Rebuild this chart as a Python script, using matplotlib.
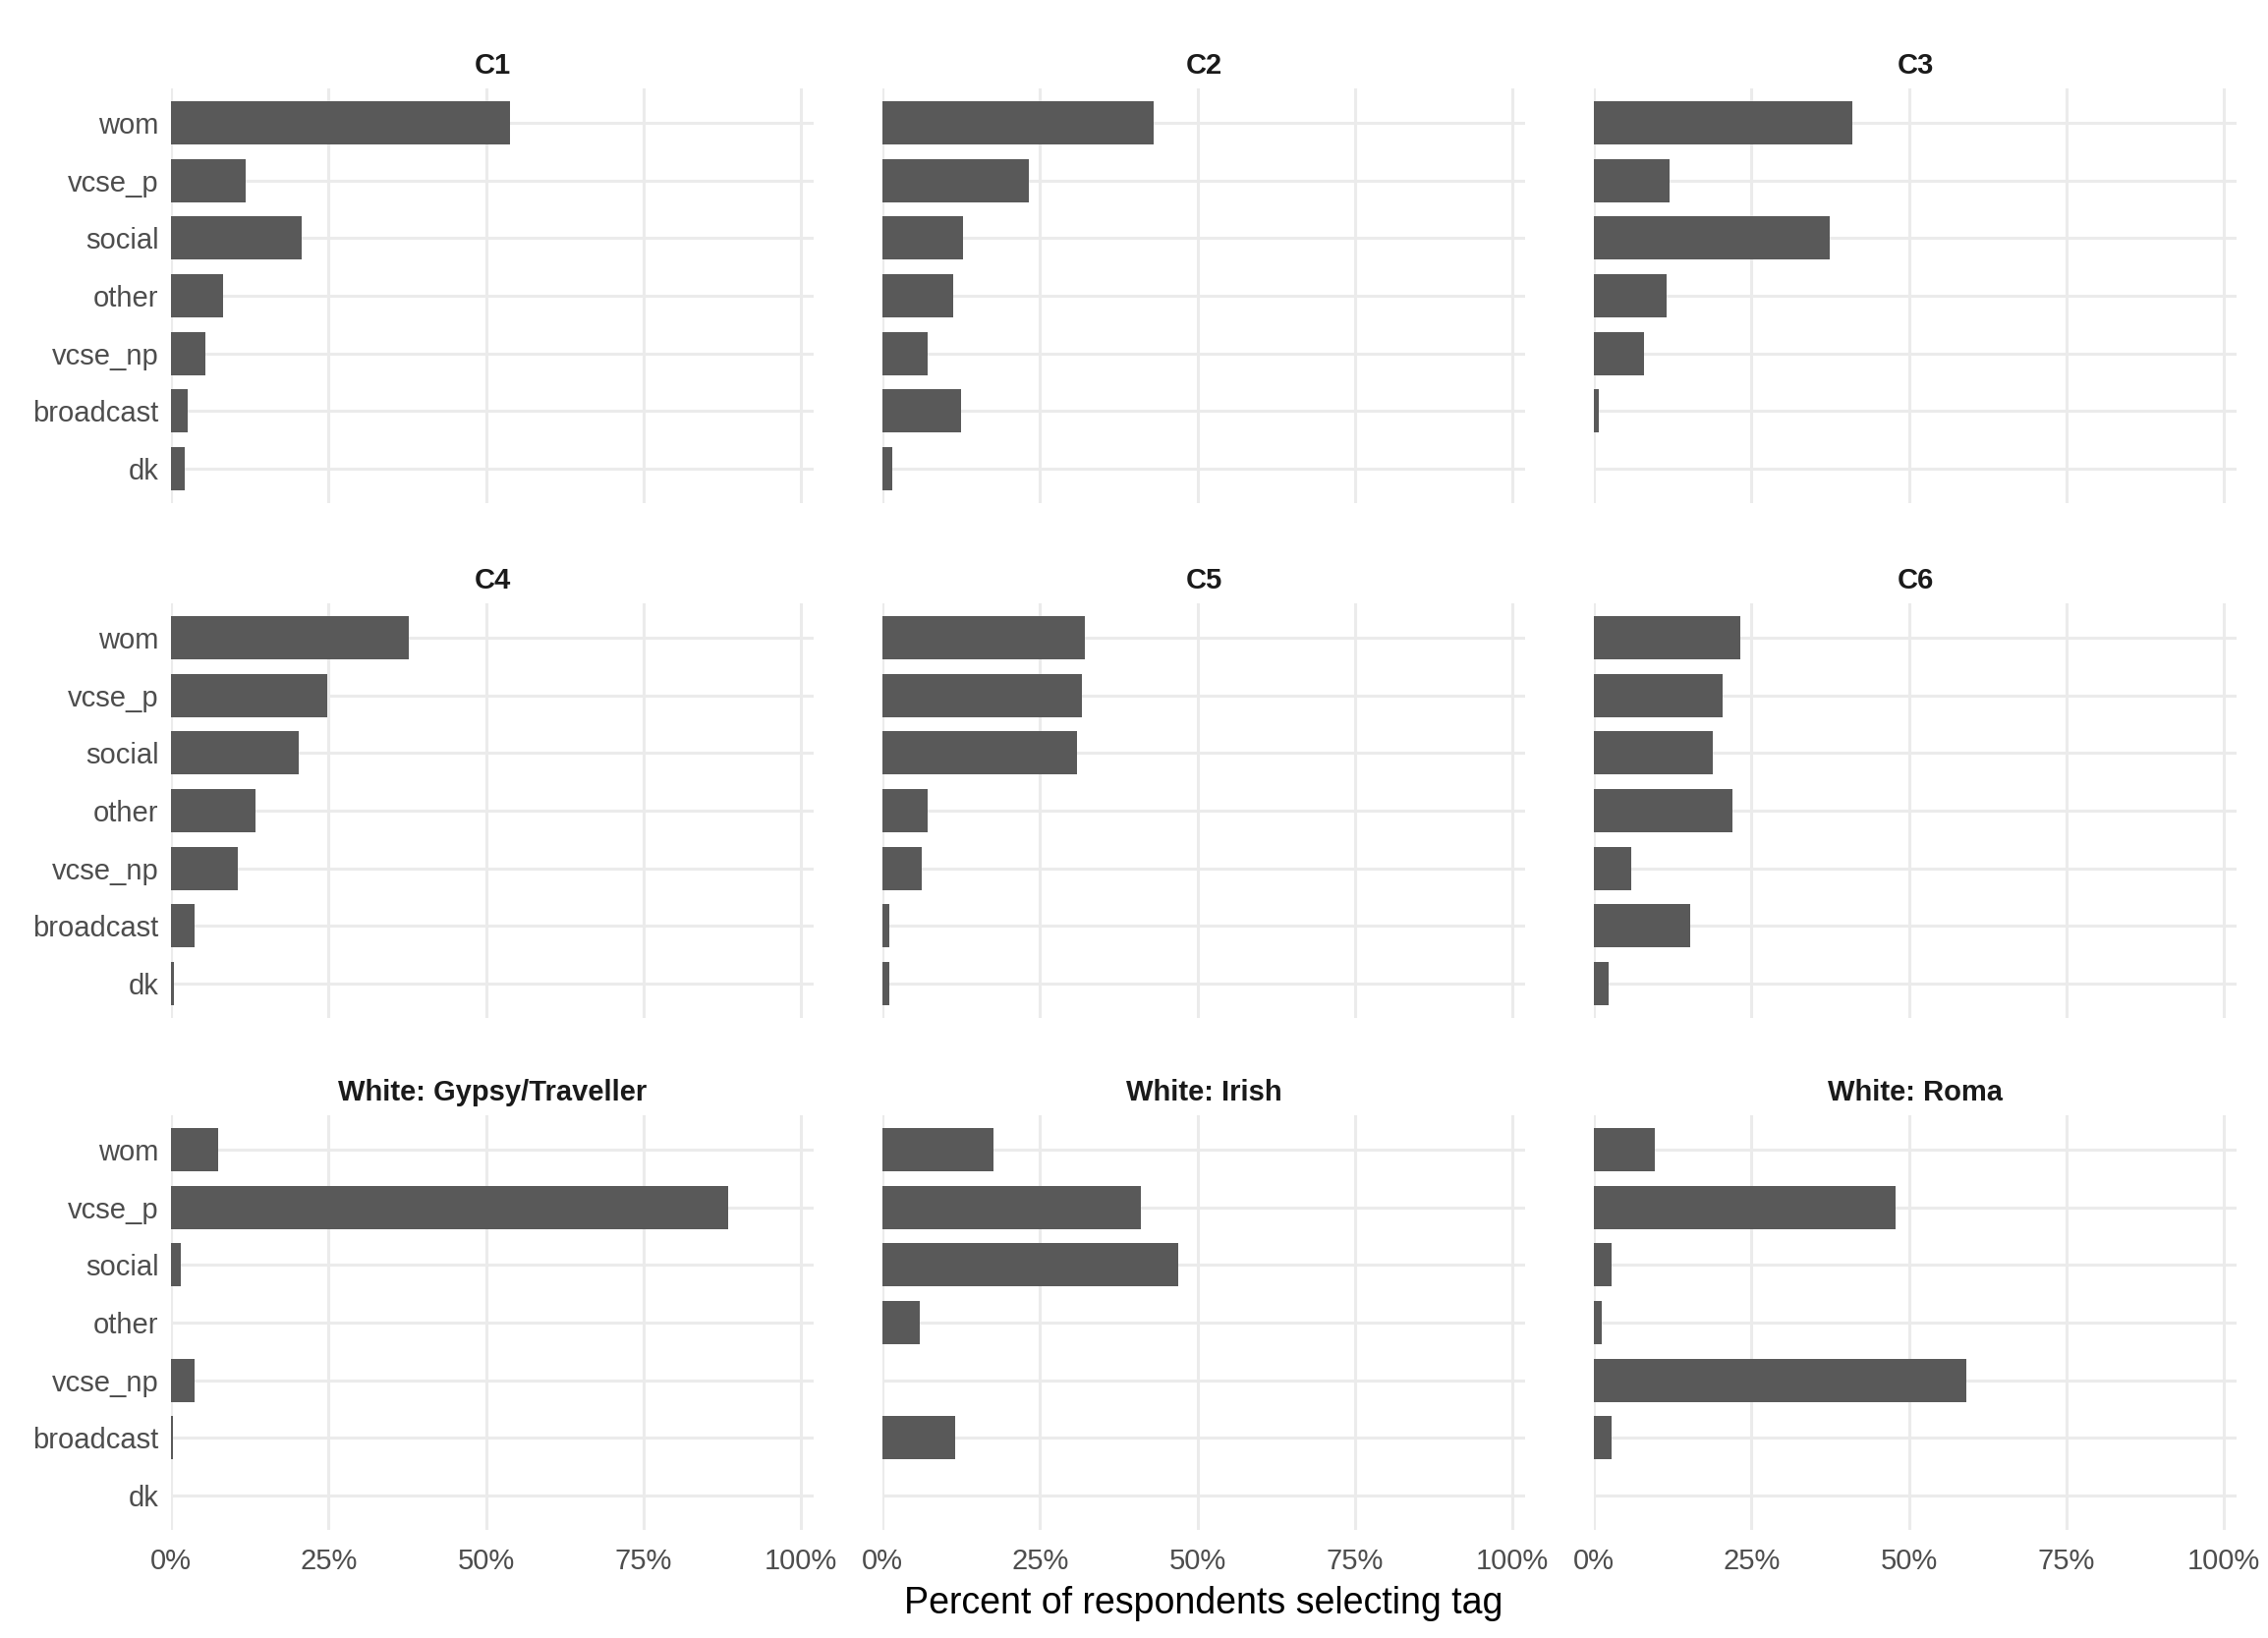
import numpy as np
import matplotlib.pyplot as plt
from matplotlib.ticker import FuncFormatter

plt.rcParams["font.family"] = ["Liberation Sans", "DejaVu Sans"]

# tags in display order (top to bottom)
tags = ["wom", "vcse_p", "social", "other", "vcse_np", "broadcast", "dk"]

groups = ["C1", "C2", "C3", "C4", "C5", "C6",
          "White: Gypsy/Traveller", "White: Irish", "White: Roma"]

# percent of respondents selecting each tag, per group
c1 = [53.8, 11.9, 20.7, 8.3, 5.5, 2.7, 2.2]
c2 = [43.0, 23.3, 12.8, 11.2, 7.2, 12.4, 1.5]
c3 = [41.0, 12.0, 37.4, 11.6, 8.0, 0.8, 0.0]
c4 = [37.7, 24.8, 20.3, 13.4, 10.6, 3.8, 0.5]
c5 = [32.1, 31.7, 30.9, 7.1, 6.3, 1.1, 1.1]
c6 = [23.3, 20.5, 18.9, 22.0, 6.0, 15.3, 2.4]
gypsy_traveller = [7.5, 88.4, 1.5, 0.0, 3.8, 0.25, 0.0]
irish = [17.6, 41.0, 47.0, 5.9, 0.0, 11.6, 0.0]
roma = [9.6, 47.9, 2.8, 1.2, 59.1, 2.8, 0.0]

values = [c1, c2, c3, c4, c5, c6, gypsy_traveller, irish, roma]

x_ticks = [0, 25, 50, 75, 100]

# layout in pixels
W, H = 2308, 1667
col_left = [174, 898, 1622]
row_top = [90, 614, 1135]
pw, ph = 654, 422

bar_col = "#595959"
grid_col = "#EBEBEB"

fig = plt.figure(figsize=(W / 100, H / 100), dpi=100)
fig.patch.set_facecolor("white")

ypos = np.arange(len(tags))

for i, (grp, vals) in enumerate(zip(groups, values)):
    r, c = divmod(i, 3)
    ax = fig.add_axes([col_left[c] / W, 1 - (row_top[r] + ph) / H, pw / W, ph / H])
    ax.barh(ypos, vals, height=0.75, color=bar_col, edgecolor="none", zorder=2)

    ax.set_xlim(0, 102)
    ax.set_ylim(len(tags) - 0.4, -0.6)
    ax.set_xticks(x_ticks)
    ax.set_yticks(ypos)
    ax.grid(True, color=grid_col, linewidth=2.2, zorder=0)
    ax.set_axisbelow(True)
    for s in ax.spines.values():
        s.set_visible(False)
    ax.tick_params(length=0, labelsize=21, labelcolor="#4D4D4D")
    ax.tick_params(axis="y", pad=9)
    ax.tick_params(axis="x", pad=13)

    if c == 0:
        ax.set_yticklabels(tags)
    else:
        ax.set_yticklabels([])
    if r == 2:
        ax.xaxis.set_major_formatter(FuncFormatter(lambda v, p: f"{v:.0f}%"))
    else:
        ax.set_xticklabels([])

    ax.set_title(grp, fontsize=21, fontweight="bold", color="#1A1A1A", pad=11)

    if i == 7:
        ax.set_xlabel("Percent of respondents selecting tag", fontsize=27,
                      color="black", labelpad=8)

fig.savefig("out.png", dpi=100, facecolor="white")
